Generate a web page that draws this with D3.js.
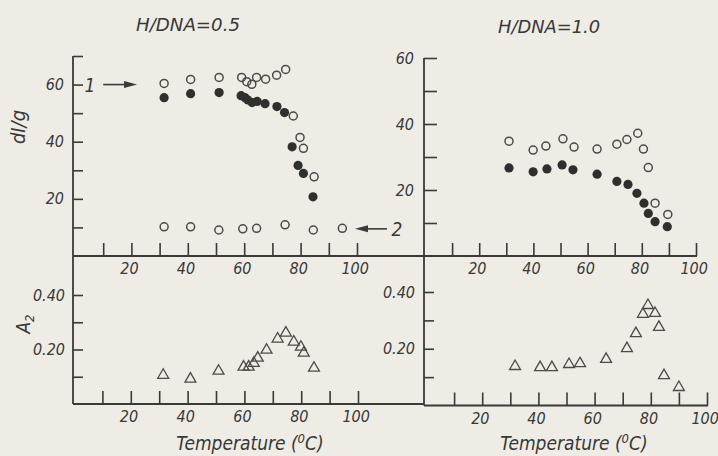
<!DOCTYPE html>
<html>
<head>
<meta charset="utf-8">
<script src="https://cdn.jsdelivr.net/npm/d3@7"></script>
<style>
  html, body { margin: 0; padding: 0; background: #eeece5; }
  svg { display: block; }
  text { font-family: "Liberation Sans Narrow", "DejaVu Sans Condensed", "Roboto Condensed", "DejaVu Sans", sans-serif;
         font-stretch: condensed; font-style: italic; fill: #383838; }
</style>
</head>
<body>
<div id="chart"></div>
<script>
// figure size
var svgWidth = 718;
var svgHeight = 456;

// ---- data ----
// top left, H/DNA = 0.5, dI/g
var tempOpenA = [31.6, 41, 51.1, 59.1, 60.9, 62.7, 64.4, 67.6, 71.5, 74.7, 77.4, 79.8, 81, 84.8];
var diOpenA   = [60.4, 61.8, 62.5, 62.5, 61.0, 60.1, 62.5, 61.9, 63.3, 65.3, 49.0, 41.5, 37.7, 27.7];
var tempFillA = [31.6, 41, 51.1, 58.9, 60.3, 61.3, 62.8, 64.6, 67.4, 71.6, 74.3, 77, 79.1, 81, 84.4];
var diFillA   = [55.4, 56.8, 57.2, 56.1, 55.4, 54.6, 53.7, 54.1, 53.3, 52.3, 50.2, 38.2, 31.7, 28.9, 20.7];
var tempLowA  = [31.6, 41, 51, 59.5, 64.4, 74.5, 84.5, 94.8];
var diLowA    = [10.2, 10.2, 9.1, 9.5, 9.7, 10.9, 9.1, 9.7];

// top right, H/DNA = 1.0, dI/g
var tempOpenB = [31, 39.9, 44.6, 50.9, 55, 63.5, 70.8, 74.5, 78.5, 80.6, 82.4, 84.9, 89.6];
var diOpenB   = [34.8, 32.1, 33.3, 35.5, 33.0, 32.4, 33.9, 35.3, 37.2, 32.4, 26.8, 16.0, 12.6];
var tempFillB = [31, 39.9, 45, 50.6, 54.6, 63.5, 70.8, 74.9, 78.2, 80.8, 82.4, 84.9, 89.4];
var diFillB   = [26.7, 25.5, 26.4, 27.6, 26.1, 24.8, 22.6, 21.7, 19.0, 16.0, 12.9, 10.4, 8.9];

// bottom left, A2 for H/DNA = 0.5
var tempA2A = [31.4, 41, 50.9, 59.7, 61.5, 63.3, 64.7, 67.8, 71.7, 74.6, 77.4, 79.9, 80.9, 84.5];
var a2A     = [0.106, 0.092, 0.121, 0.136, 0.136, 0.150, 0.169, 0.198, 0.239, 0.261, 0.228, 0.209, 0.187, 0.132];

// bottom right, A2 for H/DNA = 1.0
var tempA2B = [31.7, 40.6, 44.8, 50.9, 54.8, 64.1, 71.5, 74.7, 77.2, 79, 81.5, 82.9, 84.7, 90];
var a2B     = [0.138, 0.134, 0.134, 0.145, 0.148, 0.163, 0.201, 0.254, 0.322, 0.353, 0.325, 0.276, 0.106, 0.064];

// axis ticks and labels
var tempTicks = [10, 20, 30, 40, 50, 60, 70, 80, 90, 100];
var tempLabels = [20, 40, 60, 80, 100];
var diTicksA = [10, 20, 30, 40, 50, 60, 70];
var diTicksB = [10, 20, 30, 40, 50, 60];
var diLabels = [20, 40, 60];
var a2Ticks = [0.1, 0.2, 0.3, 0.4];
var a2Labels = [0.2, 0.4];
var titles = ["H/DNA=0.5", "H/DNA=1.0"];

var ink = "#3a3a3a";

var svg = d3.select("#chart").append("svg")
    .attr("width", svgWidth)
    .attr("height", svgHeight);

svg.append("rect").attr("width", svgWidth).attr("height", svgHeight).attr("fill", "#eeece5");

// scales, one set per panel (the printed figure is not perfectly regular)
var xTL = d3.scaleLinear().domain([0, 100]).range([75, 357]);
var yTL = d3.scaleLinear().domain([0, 70]).range([256, 56]);
var xTR = d3.scaleLinear().domain([0, 100]).range([425, 696]);
var yTR = d3.scaleLinear().domain([0, 60]).range([256, 58]);
var xBL = d3.scaleLinear().domain([0, 100]).range([74, 358]);
var yBL = d3.scaleLinear().domain([0, 0.4]).range([404, 295]);
var xBR = d3.scaleLinear().domain([0, 100]).range([426, 707]);
var yBR = d3.scaleLinear().domain([0, 0.4]).range([405.5, 292]);

function tempFormat(d) { return tempLabels.indexOf(d) >= 0 ? d : ""; }

// frame lines
var frame = svg.append("g").attr("stroke", ink).attr("stroke-width", 1.8);
frame.append("line").attr("x1", 73).attr("y1", yTL(70)).attr("x2", 73).attr("y2", yBL(0));
frame.append("line").attr("x1", 424).attr("y1", yTR(60)).attr("x2", 424).attr("y2", yBR(0));
frame.append("line").attr("x1", 73).attr("y1", 256).attr("x2", 697).attr("y2", 256);
frame.append("line").attr("x1", 73).attr("y1", yBL(0)).attr("x2", 424).attr("y2", yBL(0));
frame.append("line").attr("x1", 424).attr("y1", yBR(0)).attr("x2", 708).attr("y2", yBR(0));

function styleAxis(g, size) {
    g.select(".domain").remove();
    g.selectAll(".tick line").attr("stroke", ink).attr("stroke-width", 1.6);
    g.selectAll(".tick text").attr("font-size", size).attr("fill", ink)
        .style("font-family", null);
    g.attr("font-family", null);
}

// x axes, ticks pointing up into each panel
[[xTL, 256], [xTR, 256], [xBL, yBL(0)], [xBR, yBR(0)]].forEach(function(p) {
    svg.append("g")
        .attr("transform", `translate(0, ${p[1]})`)
        .call(d3.axisBottom(p[0]).tickValues(tempTicks).tickFormat(tempFormat)
            .tickSize(-13).tickPadding(7))
        .call(styleAxis, 16)
        .selectAll(".tick text").attr("dx", "-0.15em");
});

// y axes, ticks pointing right
svg.append("g").attr("transform", "translate(73, 0)")
    .call(d3.axisLeft(yTL).tickValues(diTicksA)
        .tickFormat(d => diLabels.indexOf(d) >= 0 ? d : "").tickSize(-10).tickPadding(9))
    .call(styleAxis, 16);
svg.append("g").attr("transform", "translate(424, 0)")
    .call(d3.axisLeft(yTR).tickValues(diTicksB)
        .tickFormat(d => diLabels.indexOf(d) >= 0 ? d : "").tickSize(-13).tickPadding(10))
    .call(styleAxis, 16);
svg.append("g").attr("transform", "translate(73, 0)")
    .call(d3.axisLeft(yBL).tickValues(a2Ticks)
        .tickFormat(d => a2Labels.indexOf(d) >= 0 ? d3.format(".2f")(d) : "").tickSize(-10).tickPadding(8))
    .call(styleAxis, 16);
svg.append("g").attr("transform", "translate(424, 0)")
    .call(d3.axisLeft(yBR).tickValues(a2Ticks)
        .tickFormat(d => a2Labels.indexOf(d) >= 0 ? d3.format(".2f")(d) : "").tickSize(-10).tickPadding(9))
    .call(styleAxis, 16);

// markers
function openCircles(xs, ys, xScale, yScale) {
    svg.append("g").selectAll("circle")
        .data(xs.map((t, i) => [t, ys[i]]))
        .enter().append("circle")
        .attr("cx", d => xScale(d[0]))
        .attr("cy", d => yScale(d[1]))
        .attr("r", 4)
        .attr("fill", "none")
        .attr("stroke", "#4a4a4a")
        .attr("stroke-width", 1.5);
}
function filledCircles(xs, ys, xScale, yScale) {
    svg.append("g").selectAll("circle")
        .data(xs.map((t, i) => [t, ys[i]]))
        .enter().append("circle")
        .attr("cx", d => xScale(d[0]))
        .attr("cy", d => yScale(d[1]))
        .attr("r", 4.6)
        .attr("fill", "#2f2f2f");
}
function triangles(xs, ys, xScale, yScale) {
    svg.append("g").selectAll("path")
        .data(xs.map((t, i) => [t, ys[i]]))
        .enter().append("path")
        .attr("d", d3.symbol(d3.symbolTriangle, 52))
        .attr("transform", d => `translate(${xScale(d[0])}, ${yScale(d[1])})`)
        .attr("fill", "none")
        .attr("stroke", "#4a4a4a")
        .attr("stroke-width", 1.3);
}

openCircles(tempOpenA, diOpenA, xTL, yTL);
filledCircles(tempFillA, diFillA, xTL, yTL);
openCircles(tempLowA, diLowA, xTL, yTL);
openCircles(tempOpenB, diOpenB, xTR, yTR);
filledCircles(tempFillB, diFillB, xTR, yTR);
triangles(tempA2A, a2A, xBL, yBL);
triangles(tempA2B, a2B, xBR, yBR);

// curve labels with arrows
function arrow(x1, x2, y) {
    var dir = x2 > x1 ? 1 : -1;
    svg.append("line").attr("x1", x1).attr("y1", y).attr("x2", x2 - dir * 8).attr("y2", y)
        .attr("stroke", ink).attr("stroke-width", 1.6);
    svg.append("path")
        .attr("d", `M${x2},${y} L${x2 - dir * 13},${y - 3.5} L${x2 - dir * 13},${y + 3.5} Z`)
        .attr("fill", ink);
}
svg.append("text").attr("x", xTL(5.3)).attr("y", yTL(60) + 7).attr("text-anchor", "middle")
    .attr("font-size", 19).text("1");
arrow(xTL(10), xTL(22), yTL(60));
arrow(xTL(110.6), xTL(99.3), yTL(9.5));
svg.append("text").attr("x", xTL(114.2)).attr("y", yTL(9.5) + 7).attr("text-anchor", "middle")
    .attr("font-size", 19).text("2");

// titles
svg.append("text").attr("x", 188).attr("y", 31).attr("text-anchor", "middle")
    .attr("font-size", 18).attr("textLength", 104).attr("lengthAdjust", "spacingAndGlyphs")
    .text(titles[0]);
svg.append("text").attr("x", 549).attr("y", 33).attr("text-anchor", "middle")
    .attr("font-size", 18).attr("textLength", 102).attr("lengthAdjust", "spacingAndGlyphs")
    .text(titles[1]);

// axis titles
[[250, 156], [574, 162]].forEach(function(p) {
    var t = svg.append("text").attr("x", p[0]).attr("y", 450).attr("text-anchor", "middle")
        .attr("font-size", 19);
    t.append("tspan").text("Temperature (");
    t.append("tspan").attr("font-size", 13).attr("dy", -7).text("0");
    t.append("tspan").attr("dy", 7).text("C)");
});

svg.append("text").attr("transform", "translate(25, 127) rotate(-90)")
    .attr("text-anchor", "middle").attr("font-size", 20).text("dI/g");

var a2Label = svg.append("text").attr("transform", "translate(30, 324) rotate(-90)")
    .attr("text-anchor", "middle").attr("font-size", 19);
a2Label.append("tspan").text("A");
a2Label.append("tspan").attr("font-size", 13).attr("dy", 4).text("2");
</script>
</body>
</html>
